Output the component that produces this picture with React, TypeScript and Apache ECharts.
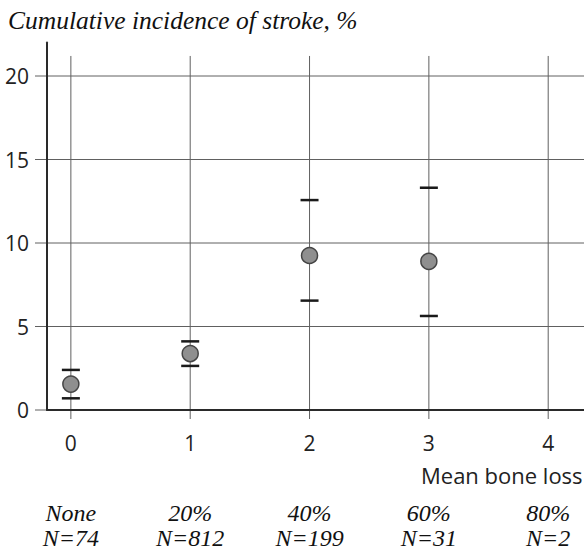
import React, { useEffect, useRef } from "react";
import * as echarts from "echarts";

const xTicks = [0, 1, 2, 3, 4];
const yTicks = [0, 5, 10, 15, 20];
const pointX = [0, 1, 2, 3];
const means = [1.55, 3.38, 9.25, 8.9];
const lowerCI = [0.7, 2.64, 6.55, 5.63];
const upperCI = [2.4, 4.11, 12.57, 13.31];
const boneLoss = ["None", "20%", "40%", "60%", "80%"];
const counts = [74, 812, 199, 31, 2];

const X_MIN = -0.2;
const X_MAX = 4.3;
const Y_MAX = 22;
const V_GRID_TOP = 21.2;

const GRID_COLOR = "#606060";
const AXIS_COLOR = "#2a2a2a";
const SANS = "Open Sans";
const SERIF = "Liberation Serif";

export default function App() {
  const ref = useRef<HTMLDivElement>(null);
  useEffect(() => {
    const chart = echarts.init(ref.current as HTMLDivElement, null, { renderer: "svg" });
    const option: any = {
      animation: false,
      backgroundColor: "#ffffff",
      grid: { left: 47, right: 0, top: 42.6, bottom: 132.3, containLabel: false },
      xAxis: [
        {
          type: "value",
          min: X_MIN,
          max: X_MAX,
          z: 10,
          axisLine: { show: true, onZero: false, lineStyle: { color: AXIS_COLOR, width: 2 } },
          axisTick: { show: false },
          splitLine: { show: false },
          axisLabel: {
            customValues: xTicks,
            margin: 22,
            fontFamily: SANS,
            fontSize: 21,
            color: "#222",
          },
        },
        {
          type: "value",
          min: X_MIN,
          max: X_MAX,
          position: "bottom",
          offset: 84,
          axisLine: { show: false },
          axisTick: { show: false },
          splitLine: { show: false },
          axisLabel: {
            customValues: xTicks,
            margin: 6,
            fontFamily: SERIF,
            fontStyle: "italic",
            fontSize: 24,
            lineHeight: 25,
            color: "#111",
            formatter: (v: number) => {
              const i = Math.round(v);
              return `${boneLoss[i]}\nN=${counts[i]}`;
            },
          },
        },
      ],
      yAxis: {
        type: "value",
        min: 0,
        max: Y_MAX,
        z: 10,
        axisLine: { show: true, onZero: false, lineStyle: { color: AXIS_COLOR, width: 2 } },
        axisTick: { show: false },
        splitLine: { show: false },
        axisLabel: {
          customValues: yTicks,
          margin: 18,
          fontFamily: SANS,
          fontSize: 21,
          color: "#222",
        },
      },
      graphic: [
        {
          type: "text",
          left: 8,
          top: 7,
          style: {
            text: "Cumulative incidence of stroke, %",
            fontFamily: SERIF,
            fontStyle: "italic",
            fontSize: 25.5,
            fill: "#111",
          },
        },
        {
          type: "text",
          left: 421,
          top: 464,
          style: {
            text: "Mean bone loss",
            fontFamily: SANS,
            fontSize: 22,
            fill: "#222",
          },
        },
      ],
      series: [
        {
          type: "custom",
          name: "vgrid",
          silent: true,
          z: 1,
          data: xTicks.map((x) => [x, 0]),
          renderItem: (params: any, api: any) => {
            const x = api.value(0);
            const top = api.coord([x, V_GRID_TOP]);
            const bot = api.coord([x, 0]);
            return {
              type: "line",
              shape: { x1: top[0], y1: top[1], x2: bot[0], y2: bot[1] + 9 },
              style: { stroke: GRID_COLOR, lineWidth: 1 },
            };
          },
        },
        {
          type: "custom",
          name: "hgrid",
          silent: true,
          z: 1,
          data: yTicks.map((y) => [0, y]),
          renderItem: (params: any, api: any) => {
            const y = api.value(1);
            const l = api.coord([X_MIN, y]);
            const r = api.coord([X_MAX, y]);
            return {
              type: "line",
              shape: { x1: l[0] - 12, y1: l[1], x2: y === 0 ? l[0] : r[0], y2: r[1] },
              style: { stroke: GRID_COLOR, lineWidth: 1 },
            };
          },
        },
        {
          type: "custom",
          name: "ci",
          silent: true,
          z: 5,
          data: pointX.map((x, i) => [x, lowerCI[i], upperCI[i]]),
          renderItem: (params: any, api: any) => {
            const x = api.value(0);
            const lo = api.coord([x, api.value(1)]);
            const hi = api.coord([x, api.value(2)]);
            const hw = 9;
            return {
              type: "group",
              children: [
                {
                  type: "line",
                  shape: { x1: lo[0] - hw, y1: lo[1], x2: lo[0] + hw, y2: lo[1] },
                  style: { stroke: "#1a1a1a", lineWidth: 2.5 },
                },
                {
                  type: "line",
                  shape: { x1: hi[0] - hw, y1: hi[1], x2: hi[0] + hw, y2: hi[1] },
                  style: { stroke: "#1a1a1a", lineWidth: 2.5 },
                },
              ],
            };
          },
        },
        {
          type: "scatter",
          name: "mean",
          z: 6,
          symbol: "circle",
          symbolSize: 16,
          data: pointX.map((x, i) => [x, means[i]]),
          itemStyle: { color: "#8f8f8f", borderColor: "#454545", borderWidth: 1.5, opacity: 1 },
        },
      ],
    };
    chart.setOption(option);
    return () => chart.dispose();
  }, []);
  return (
    <div
      ref={ref}
      style={{ width: 584, height: 550, position: "absolute", left: 0, top: 0 }}
    />
  );
}
